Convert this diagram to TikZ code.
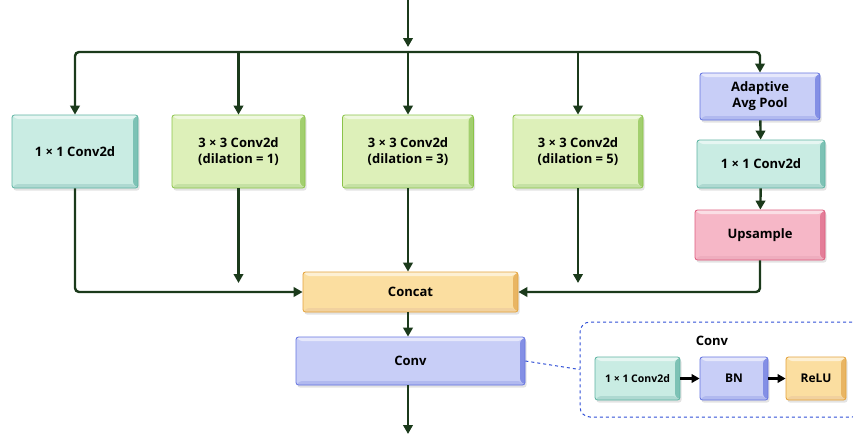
\documentclass[tikz,border=0pt]{standalone}
\usepackage{fontspec}
\setmainfont{Open Sans}
\usetikzlibrary{arrows.meta,shadows,positioning}
\definecolor{arrowc}{HTML}{1B3A1B}
\definecolor{tealF}{HTML}{C9ECE3}\definecolor{tealD}{HTML}{5DB3A2}
\definecolor{greenF}{HTML}{DDF0B9}\definecolor{greenD}{HTML}{8BC34A}
\definecolor{blueF}{HTML}{C8CEF7}\definecolor{blueD}{HTML}{6473DF}
\definecolor{pinkF}{HTML}{F6B7C7}\definecolor{pinkD}{HTML}{DD5C7E}
\definecolor{orangeF}{HTML}{FBDEA0}\definecolor{orangeD}{HTML}{E3A23C}
\definecolor{dashc}{HTML}{2F4FD6}
\tikzset{
  box/.style 2 args={draw=#2, line width=0.8pt, fill=#1, rounded corners=2.5pt,
    align=center, font=\bfseries\fontsize{13}{16}\selectfont,
    drop shadow={opacity=0.22, shadow xshift=1.5pt, shadow yshift=-2.5pt},
    path picture={
      \fill[#2!80] ([xshift=-5pt,yshift=-4pt]path picture bounding box.north east)
        -- ([yshift=0pt]path picture bounding box.north east)
        -- (path picture bounding box.south east)
        -- ([xshift=-5pt,yshift=4pt]path picture bounding box.south east) -- cycle;
      \fill[#2!50] ([xshift=-5pt,yshift=4pt]path picture bounding box.south east)
        -- (path picture bounding box.south east)
        -- (path picture bounding box.south west)
        -- ([xshift=4pt,yshift=4pt]path picture bounding box.south west) -- cycle;
      \fill[white,opacity=0.55] ([xshift=4pt,yshift=-4pt]path picture bounding box.north west)
        -- (path picture bounding box.north west)
        -- (path picture bounding box.north east)
        -- ([xshift=-5pt,yshift=-4pt]path picture bounding box.north east) -- cycle;
    }},
  small/.style={font=\bfseries\fontsize{10.5}{13}\selectfont},
  arr/.style={draw=arrowc, line width=2.4pt, -{Triangle[length=9pt,width=9.5pt]}},
  arrb/.style={draw=black, line width=2.4pt, -{Triangle[length=8pt,width=8.5pt]}},
  dashbox/.style={draw=dashc, dashed, line width=1pt, rounded corners=10pt},
}
\begin{document}
\begin{tikzpicture}[x=1pt,y=-1pt]
\useasboundingbox (0,0) rectangle (853,434);
% top branches
\node[box={tealF}{tealD}, minimum width=126pt, minimum height=73pt] (b1) at (75,151.5) {1 × 1 Conv2d};
\node[box={greenF}{greenD}, minimum width=133pt, minimum height=73pt] (b2) at (238.5,151.5) {3 × 3 Conv2d\\(dilation = 1)};
\node[box={greenF}{greenD}, minimum width=131pt, minimum height=73pt] (b3) at (408,151.5) {3 × 3 Conv2d\\(dilation = 3)};
\node[box={greenF}{greenD}, minimum width=130pt, minimum height=73pt] (b4) at (578,151.5) {3 × 3 Conv2d\\(dilation = 5)};
\node[box={blueF}{blueD}, minimum width=120pt, minimum height=47pt] (pool) at (760,96.5) {Adaptive\\Avg Pool};
\node[box={tealF}{tealD}, minimum width=128pt, minimum height=48pt] (pc) at (761,164) {1 × 1 Conv2d};
\node[box={pinkF}{pinkD}, minimum width=130pt, minimum height=50pt] (up) at (760,235) {Upsample};
\node[box={orangeF}{orangeD}, minimum width=215pt, minimum height=40pt] (cat) at (410.5,292) {Concat};
\node[box={blueF}{blueD}, minimum width=229pt, minimum height=48pt] (conv) at (410.5,361) {Conv};
% inputs
\coordinate (in) at (408,0);
\coordinate (bus) at (408,52);
\coordinate (out) at (408,434);
\draw[arr] (in) -- ([yshift=5pt]bus);
\draw[arr, rounded corners=4pt] (bus) -| (b1.north);
\draw[arr] (bus) -| (b2.north);
\draw[arr] (bus) -- (b3.north);
\draw[arr] (bus) -| (b4.north);
\draw[arr, rounded corners=4pt] (bus) -| (pool.north);
\draw[arr] (pool) -- (pc);
\draw[arr] (pc) -- (up);
% to concat
\draw[arr, rounded corners=4pt] (b1.south) |- (cat.west);
\draw[arr, rounded corners=4pt] (up.south) |- (cat.east);
\draw[arr] (b2.south) -- ([yshift=9pt]b2.south |- cat.west);
\draw[arr] (b4.south) -- ([yshift=9pt]b4.south |- cat.east);
\draw[arr] (b3.south) -- (b3.south |- cat.north);
\draw[arr] (in |- cat.south) -- (in |- conv.north);
\draw[arr] (in |- conv.south) -- (out);
% conv detail
\node[dashbox, minimum width=282pt, minimum height=95pt] (dbox) at (721,369.5) {};
\draw[dashc, dashed, line width=1pt] (conv.east) -- (dbox.west);
\node[font=\bfseries\fontsize{13}{16}\selectfont] (ttl) at (712,341) {Conv};
\node[box={tealF}{tealD}, small, minimum width=85pt, minimum height=43pt] (c1) at (637.5,378.5) {1 × 1 Conv2d};
\node[box={blueF}{blueD}, small, font=\bfseries\fontsize{12}{14}\selectfont, minimum width=68pt, minimum height=43pt] (bn) at (734,378.5) {BN};
\node[box={orangeF}{orangeD}, small, font=\bfseries\fontsize{12}{14}\selectfont, minimum width=60pt, minimum height=43pt] (relu) at (816,378.5) {ReLU};
\draw[arrb] (c1) -- (bn);
\draw[arrb] (bn) -- (relu);
\end{tikzpicture}
\end{document}
